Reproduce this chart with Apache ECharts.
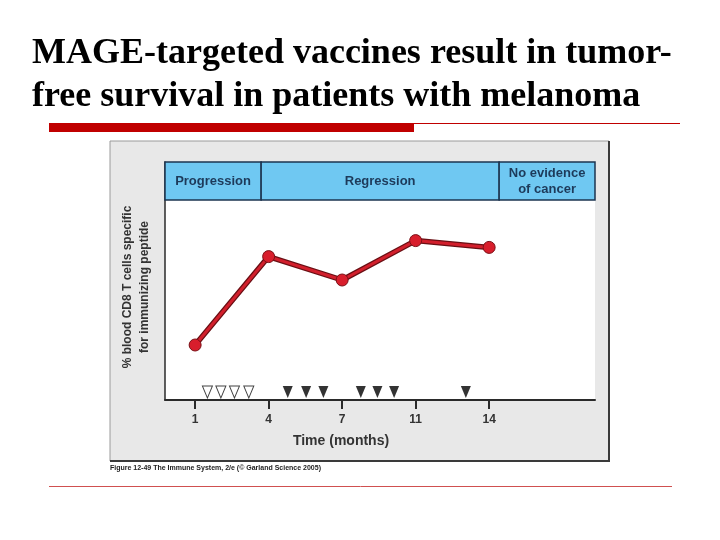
<!DOCTYPE html>
<html><head><meta charset="utf-8">
<script src="https://cdn.jsdelivr.net/npm/echarts@6/dist/echarts.min.js"></script>
<style>html,body{margin:0;padding:0;background:#fff}#c{width:720px;height:540px}</style>
</head><body><div id="c"></div>
<script>
// Data
const monthLabels = ['1', '4', '7', '11', '14'];
const monthPositions = [0, 1, 2, 3, 4];
const cd8Values = [27.5, 71.7, 60, 79.7, 76.3];
const openVaccinations = [0.167, 0.35, 0.535, 0.73];
const filledVaccinations = [1.26, 1.51, 1.745, 2.254, 2.48, 2.707, 3.683];
const markerLevel = 4;
const phaseNames = ['Progression', 'Regression', 'No evidence\nof cancer'];
const phaseBounds = [-0.41, 0.898, 4.136, 5.44];
const headerRange = [100, 119];

const chart = echarts.init(document.getElementById('c'));
const phaseAreas = phaseNames.map((n, i) => [
  { name: n, xAxis: phaseBounds[i], yAxis: headerRange[0] },
  { xAxis: phaseBounds[i + 1], yAxis: headerRange[1] }
]);

chart.setOption({
  animation: false,
  title: {
    text: 'MAGE-targeted vaccines result in tumor-\nfree survival in patients with melanoma',
    left: 27, top: 27,
    textStyle: { fontFamily: 'Liberation Serif', fontWeight: 'bold', fontSize: 36, lineHeight: 43, color: '#000' }
  },
  graphic: [
    { type: 'rect', z: -10, shape: { x: 110, y: 141, width: 499, height: 320 }, style: { fill: '#e8e8e8', stroke: '#9a9a9a', lineWidth: 1 } },
    { type: 'line', z: -9, shape: { x1: 609, y1: 141, x2: 609, y2: 462 }, style: { stroke: '#3a3a3a', lineWidth: 2 } },
    { type: 'line', z: -9, shape: { x1: 110, y1: 461, x2: 610, y2: 461 }, style: { stroke: '#3a3a3a', lineWidth: 2 } },
    { type: 'rect', shape: { x: 49, y: 123, width: 365, height: 9 }, style: { fill: '#c00000' } },
    { type: 'line', shape: { x1: 414, y1: 123.5, x2: 680, y2: 123.5 }, style: { stroke: '#c00000', lineWidth: 1 } },
    { type: 'line', shape: { x1: 49, y1: 486.5, x2: 672, y2: 486.5 }, style: { stroke: '#d05050', lineWidth: 1 } },
    { type: 'text', left: 110, top: 465, style: { text: 'Figure 12-49 The Immune System, 2/e (© Garland Science 2005)', font: 'bold 7px Liberation Sans', fill: '#222' } }
  ],
  grid: { left: 165, right: 125, top: 162, bottom: 140, show: true, backgroundColor: '#fff', borderWidth: 0 },
  xAxis: {
    type: 'value', min: -0.41, max: 5.44,
    splitLine: { show: false },
    axisLine: { show: true, lineStyle: { color: '#2a2a2a', width: 2 } },
    axisTick: { show: true, customValues: monthPositions, length: 9, lineStyle: { color: '#2a2a2a', width: 2 } },
    axisLabel: { customValues: monthPositions, formatter: v => monthLabels[Math.round(v)], margin: 14, fontSize: 12, fontWeight: 'bold', color: '#333', fontFamily: 'Liberation Sans' },
    name: 'Time (months)', nameLocation: 'middle', nameGap: 34,
    nameTextStyle: { fontSize: 14, fontWeight: 'bold', color: '#333', fontFamily: 'Liberation Sans', padding: [0, 78, 0, 0] }
  },
  yAxis: {
    type: 'value', min: 0, max: 119,
    splitLine: { show: false },
    axisLine: { show: true, onZero: false, lineStyle: { color: '#2a2a2a', width: 1.5 } },
    axisTick: { show: false },
    axisLabel: { show: false },
    name: '% blood CD8 T cells specific\nfor immunizing peptide', nameLocation: 'middle', nameGap: 12,
    nameTextStyle: { fontSize: 12, fontWeight: 'bold', color: '#333', fontFamily: 'Liberation Sans', lineHeight: 17, padding: [0, 0, 0, -12] }
  },
  series: [
    {
      type: 'line', data: [], silent: true,
      markArea: {
        silent: true,
        itemStyle: { color: '#6fc8f2', borderColor: '#1d3550', borderWidth: 1.5 },
        label: { position: 'inside', fontSize: 13, fontWeight: 'bold', color: '#1d3a5a', fontFamily: 'Liberation Sans', lineHeight: 16 },
        data: phaseAreas
      }
    },
    {
      type: 'line', z: 3, symbol: 'none',
      data: monthPositions.map((x, i) => [x, cd8Values[i]]),
      lineStyle: { color: '#6a0f14', width: 5.5 }
    },
    {
      type: 'line', z: 4, symbol: 'circle', symbolSize: 12,
      data: monthPositions.map((x, i) => [x, cd8Values[i]]),
      lineStyle: { color: '#d21f2c', width: 3 },
      itemStyle: { color: '#d81e2c', borderColor: '#7a1016', borderWidth: 1 }
    },
    {
      type: 'scatter', symbol: 'triangle', symbolRotate: 180, symbolSize: [10, 12],
      data: openVaccinations.map(x => [x, markerLevel]),
      itemStyle: { color: '#fff', borderColor: '#111', borderWidth: 1 }
    },
    {
      type: 'scatter', symbol: 'triangle', symbolRotate: 180, symbolSize: [10, 12],
      data: filledVaccinations.map(x => [x, markerLevel]),
      itemStyle: { color: '#000' }
    }
  ]
});
</script></body></html>
